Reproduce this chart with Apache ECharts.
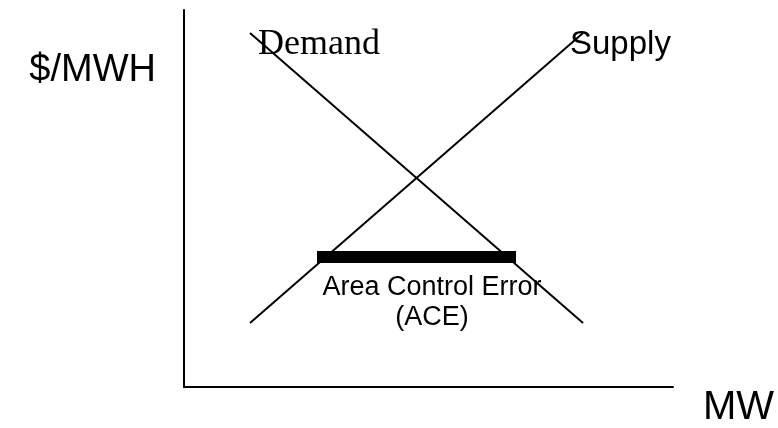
<!DOCTYPE html>
<html>
<head>
<meta charset="utf-8">
<title>ACE supply / demand</title>
<script src="https://cdn.jsdelivr.net/npm/echarts@6/dist/echarts.min.js"></script>
<style>
  html, body { margin: 0; padding: 0; background: #fff; }
  #chart { width: 778px; height: 428px; }
</style>
</head>
<body>
<div id="chart"></div>
<script>
// 数据 (MW on x, $/MWH on y, both on a 0-100 scale)
const demandMW = [13.5, 81.6]
const demandPrice = [93.9, 17.0]
const supplyMW = [13.5, 81.6]
const supplyPrice = [17.0, 93.9]
const aceMW = [27.2, 67.9]
const acePrice = [34.5, 34.5]

const pairs = (xs, ys) => xs.map((x, i) => [x, ys[i]])

const chart = echarts.init(document.getElementById('chart'), null, { renderer: 'canvas' })

const lineSeries = (name, data, width) => ({
  name,
  type: 'line',
  data,
  symbol: 'none',
  silent: true,
  lineStyle: { color: '#000', width, cap: 'butt' }
})

chart.setOption({
  animation: false,
  backgroundColor: '#fff',
  grid: { left: 184, top: 10, right: 105, bottom: 41 },
  xAxis: {
    type: 'value',
    min: 0,
    max: 100,
    axisLine: { show: true, onZero: false, lineStyle: { color: '#000', width: 2 } },
    axisTick: { show: false },
    axisLabel: { show: false },
    splitLine: { show: false }
  },
  yAxis: {
    type: 'value',
    min: 0,
    max: 100,
    axisLine: { show: true, onZero: false, lineStyle: { color: '#000', width: 2 } },
    axisTick: { show: false },
    axisLabel: { show: false },
    splitLine: { show: false }
  },
  series: [
    lineSeries('Demand', pairs(demandMW, demandPrice), 2),
    lineSeries('Supply', pairs(supplyMW, supplyPrice), 2),
    lineSeries('ACE', pairs(aceMW, acePrice), 12)
  ],
  // 文字标注
  graphic: [
    {
      type: 'text', x: 156, y: 71,
      style: { text: '$/MWH', font: '38px "Liberation Sans", Arial', fill: '#000', align: 'right', verticalAlign: 'middle' }
    },
    {
      type: 'text', x: 703, y: 408,
      style: { text: 'MW', font: '40px "Liberation Sans", Arial', fill: '#000', align: 'left', verticalAlign: 'middle' }
    },
    {
      type: 'text', x: 258, y: 45,
      style: { text: 'Demand', font: '36px "Liberation Serif", "Times New Roman"', fill: '#000', align: 'left', verticalAlign: 'middle' }
    },
    {
      type: 'text', x: 570, y: 45,
      style: { text: 'Supply', font: '33px "Liberation Sans", Arial', fill: '#000', align: 'left', verticalAlign: 'middle' }
    },
    {
      type: 'text', x: 432, y: 303,
      style: { text: 'Area Control Error\n(ACE)', font: '27px "Liberation Sans", Arial', lineHeight: 30, fill: '#000', align: 'center', verticalAlign: 'middle' }
    }
  ]
})

window.addEventListener('resize', () => chart.resize())
</script>
</body>
</html>
